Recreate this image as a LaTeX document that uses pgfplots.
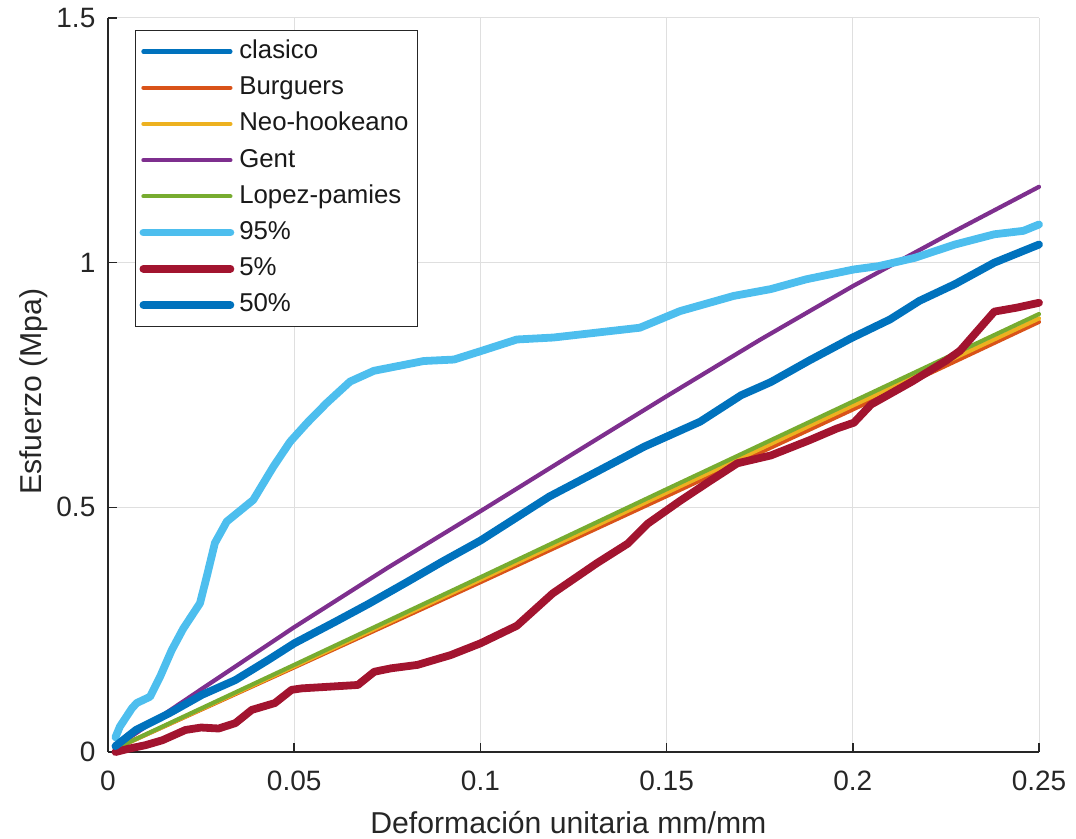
\documentclass[border=0pt]{standalone}
\usepackage{fontspec}
\setmainfont{Liberation Sans}
\usepackage{pgfplots}
\pgfplotsset{compat=1.18}

\definecolor{cBlue}{rgb}{0,0.447,0.741}
\definecolor{cOrange}{rgb}{0.851,0.325,0.098}
\definecolor{cYellow}{rgb}{0.929,0.694,0.125}
\definecolor{cPurple}{rgb}{0.494,0.184,0.556}
\definecolor{cGreen}{rgb}{0.466,0.674,0.188}
\definecolor{cCyan}{rgb}{0.301,0.745,0.933}
\definecolor{cRed}{rgb}{0.635,0.078,0.184}
\definecolor{axgray}{HTML}{262626}
\definecolor{gridgray}{HTML}{DFDFDF}

\begin{document}
\begin{tikzpicture}
\begin{axis}[
  scale only axis, width=465.5pt, height=367pt,
  xmin=0, xmax=0.25, ymin=0, ymax=1.5,
  xtick={0,0.05,0.1,0.15,0.2,0.25},
  xticklabels={0,0.05,0.1,0.15,0.2,0.25},
  ytick={0,0.5,1,1.5},
  yticklabels={0,0.5,1,1.5},
  axis x line*=bottom, axis y line*=left,
  axis line style={-, draw=axgray, line width=0.8pt},
  tick align=inside, major tick length=4.5pt,
  tick style={draw=axgray, line width=0.8pt},
  grid=major, major grid style={draw=gridgray, line width=0.5pt},
  ticklabel style={font=\fontsize{14}{16}\selectfont, text=axgray},
  xticklabel style={yshift=-5.8pt},
  yticklabel style={xshift=-2.8pt},
  xlabel={Deformación unitaria mm/mm},
  ylabel={Esfuerzo (Mpa)},
  label style={font=\fontsize{15.1}{17}\selectfont, text=axgray},
  xlabel style={at={(axis description cs:0.4945,-0.1104)}, anchor=base},
  ylabel style={at={(axis description cs:-0.0709,0.491)}, anchor=base},
  clip=false,
  legend cell align=left,
  legend style={at={(0.029,0.9837)}, anchor=north west,
    draw=axgray, line width=0.5pt, fill=white,
    font=\fontsize{12.9}{15}\selectfont, text=black!90,
    inner xsep=2pt, inner ysep=1.5pt, row sep=0pt,
    nodes={text height=9.5pt, text depth=2.6pt, inner ysep=3pt, inner xsep=2.5pt}},
  legend image code/.code={\draw[#1] (0pt,0pt) -- (43.5pt,0pt);},
  every axis plot/.append style={line join=round, line cap=round},
]

% clasico
\addplot[cBlue, line width=2.1pt] coordinates {
(0.002,0.012) (0.0075,0.045) (0.0164,0.079) (0.0253,0.117) (0.0342,0.147)
(0.043,0.188) (0.05,0.222) (0.061,0.266) (0.0698,0.302) (0.08,0.346)
(0.09,0.39) (0.1,0.432) (0.1185,0.522) (0.1313,0.573) (0.144,0.624)
(0.159,0.675) (0.170,0.729) (0.178,0.756) (0.1883,0.8) (0.1994,0.845)
(0.21,0.884) (0.2179,0.922) (0.2274,0.956) (0.238,1.0) (0.25,1.037)};
\addlegendentry{clasico}

% Burgers
\addplot[cOrange, line width=2.1pt] coordinates {
(0.002,0.007) (0.05,0.173) (0.1,0.347) (0.15,0.523) (0.2,0.700) (0.25,0.879)};
\addlegendentry{Burguers}

% Neo-hookeano
\addplot[cYellow, line width=2.1pt] coordinates {
(0.002,0.007) (0.05,0.175) (0.1,0.352) (0.15,0.530) (0.2,0.708) (0.25,0.886)};
\addlegendentry{Neo-hookeano}

% Gent
\addplot[cPurple, line width=2.1pt] coordinates {
(0.002,0.010) (0.025,0.128) (0.05,0.255) (0.075,0.376) (0.1,0.492)
(0.125,0.610) (0.15,0.727) (0.175,0.842) (0.2,0.952) (0.225,1.055) (0.25,1.155)};
\addlegendentry{Gent}

% Lopez-pamies
\addplot[cGreen, line width=2.1pt] coordinates {
(0.002,0.007) (0.05,0.178) (0.1,0.357) (0.15,0.537) (0.2,0.716) (0.25,0.895)};
\addlegendentry{Lopez-pamies}

% percentil 95
\addplot[cCyan, line width=3.9pt] coordinates {
(0.002,0.030) (0.0032,0.052) (0.0064,0.089) (0.0077,0.100) (0.0113,0.113)
(0.014,0.154) (0.0171,0.208) (0.0202,0.252) (0.0247,0.304) (0.0265,0.358)
(0.0287,0.427) (0.0319,0.471) (0.039,0.515) (0.0444,0.583) (0.0489,0.634)
(0.0534,0.672) (0.0587,0.713) (0.065,0.757) (0.0714,0.779) (0.0848,0.799)
(0.0929,0.802) (0.1,0.819) (0.1098,0.843) (0.1196,0.847) (0.1393,0.864)
(0.1428,0.867) (0.1536,0.901) (0.168,0.932) (0.178,0.946) (0.1875,0.966)
(0.2002,0.986) (0.207,0.993) (0.2167,1.010) (0.2274,1.037) (0.238,1.058)
(0.2458,1.065) (0.25,1.078)};
\addlegendentry{95\%}

% percentil 5
\addplot[cRed, line width=3.9pt] coordinates {
(0.002,0.000) (0.0057,0.007) (0.0101,0.014) (0.0146,0.024) (0.0208,0.045)
(0.025,0.050) (0.0297,0.048) (0.0342,0.059) (0.0386,0.086) (0.0448,0.100)
(0.0493,0.127) (0.052,0.130) (0.0671,0.137) (0.0715,0.164) (0.076,0.171)
(0.0831,0.178) (0.092,0.198) (0.1,0.222) (0.1098,0.258) (0.1194,0.324)
(0.1313,0.386) (0.1396,0.426) (0.145,0.467) (0.1534,0.512) (0.1607,0.549)
(0.169,0.590) (0.178,0.606) (0.1883,0.637) (0.1957,0.661) (0.2003,0.673)
(0.2049,0.710) (0.2159,0.757) (0.2251,0.800) (0.2288,0.820) (0.238,0.900)
(0.244,0.908) (0.25,0.918)};
\addlegendentry{5\%}

% percentil 50
\addplot[cBlue, line width=3.9pt] coordinates {
(0.002,0.012) (0.0075,0.045) (0.0164,0.079) (0.0253,0.117) (0.0342,0.147)
(0.043,0.188) (0.05,0.222) (0.061,0.266) (0.0698,0.302) (0.08,0.346)
(0.09,0.39) (0.1,0.432) (0.1185,0.522) (0.1313,0.573) (0.144,0.624)
(0.159,0.675) (0.170,0.729) (0.178,0.756) (0.1883,0.8) (0.1994,0.845)
(0.21,0.884) (0.2179,0.922) (0.2274,0.956) (0.238,1.0) (0.25,1.037)};
\addlegendentry{50\%}

\end{axis}
\pgfresetboundingbox
\path (-54pt,-43.5pt) rectangle (484pt,376pt);
\end{tikzpicture}
\end{document}
